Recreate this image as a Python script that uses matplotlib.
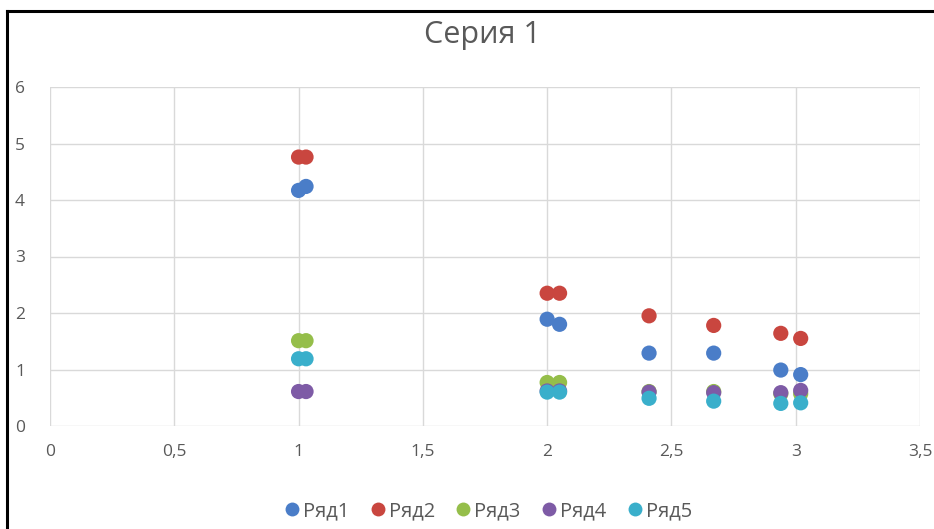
import matplotlib
matplotlib.use("Agg")
import matplotlib.pyplot as plt
from matplotlib.lines import Line2D
from matplotlib.ticker import FuncFormatter, MultipleLocator

plt.rcParams['font.family'] = ['Open Sans', 'DejaVu Sans']

x_vals = [1.0, 1.03, 2.0, 2.05, 2.41, 2.67, 2.94, 3.02]
series_names = ["Ряд1", "Ряд2", "Ряд3", "Ряд4", "Ряд5"]
ryad1 = [4.17, 4.24, 1.89, 1.80, 1.29, 1.29, 0.99, 0.91]
ryad2 = [4.76, 4.76, 2.35, 2.35, 1.95, 1.78, 1.64, 1.55]
ryad3 = [1.51, 1.51, 0.77, 0.77, 0.61, 0.61, 0.57, 0.57]
ryad4 = [0.61, 0.61, 0.62, 0.62, 0.60, 0.59, 0.59, 0.63]
ryad5 = [1.19, 1.19, 0.60, 0.60, 0.49, 0.44, 0.40, 0.41]
colors = ["#4A7DC8", "#C9463F", "#95BE4A", "#7E5BA6", "#3AAFCB"]
title = "Серия 1"

fig = plt.figure(figsize=(9.34, 5.29), dpi=100)
ax = fig.add_axes([50/934, 1-426/529, (920-50)/934, (426-87)/529])

for name, ys, c in zip(series_names, [ryad1, ryad2, ryad3, ryad4, ryad5], colors):
    ax.scatter(x_vals, ys, s=120, color=c, edgecolors='none', label=name, zorder=3)

ax.set_xlim(0, 3.5)
ax.set_ylim(0, 6)
ax.xaxis.set_major_locator(MultipleLocator(0.5))
ax.yaxis.set_major_locator(MultipleLocator(1))
fmt = FuncFormatter(lambda v, p: ("%g" % v).replace(".", ","))
ax.xaxis.set_major_formatter(fmt)
ax.yaxis.set_major_formatter(fmt)
ax.grid(True, color="#D9D9D9", linewidth=1, zorder=0)
ax.set_axisbelow(True)
for s in ax.spines.values():
    s.set_visible(False)
ax.tick_params(length=0, labelsize=12.5, labelcolor="#595959")
ax.tick_params(axis='x', pad=13)
ax.tick_params(axis='y', pad=18)

fig.text(482/934, 1-35/529, title, ha='center', va='center', fontsize=22, color="#595959")

handles = [Line2D([], [], marker='o', linestyle='none', markersize=10, color=c, markeredgewidth=0)
           for c in colors]
fig.legend(handles, series_names, loc='center', bbox_to_anchor=(487/934, 1-511/529),
           ncol=5, frameon=False, fontsize=14.5, handletextpad=0.05, columnspacing=0.9,
           labelcolor="#595959", handlelength=1.0)

# black frame at left and top
fig.add_artist(Line2D([7/934, 7/934], [0, 1-11/529], color='black', linewidth=2.2, transform=fig.transFigure))
fig.add_artist(Line2D([7/934, 1], [1-11/529, 1-11/529], color='black', linewidth=2.2, transform=fig.transFigure))

fig.savefig("out.png", dpi=100)
